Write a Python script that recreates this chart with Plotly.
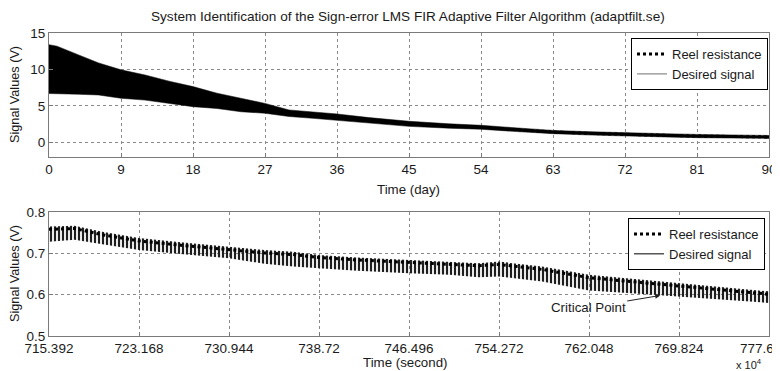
import plotly.graph_objects as go

# ---------------- data ----------------
title_text = "System Identification of the Sign-error LMS FIR Adaptive Filter Algorithm (adaptfilt.se)"

# top panel (time in days): envelope of the oscillating band
days = [0, 1, 3.7, 6.2, 9, 12, 15, 18, 21, 24, 27, 30, 33, 36, 40, 45, 50, 54, 59, 63, 68, 72, 77, 81, 86, 90]
top_upper = [13.4, 13.2, 12.0, 10.9, 9.95, 9.25, 8.4, 7.65, 6.75, 6.05, 5.35, 4.45, 4.2, 3.9, 3.4, 2.9, 2.55, 2.35, 1.95, 1.65, 1.45, 1.3, 1.2, 1.1, 1.0, 0.95]
top_lower = [6.7, 6.7, 6.6, 6.5, 6.05, 5.8, 5.35, 4.9, 4.65, 4.2, 4.0, 3.55, 3.3, 3.0, 2.6, 2.2, 1.95, 1.8, 1.45, 1.2, 1.0, 0.85, 0.75, 0.65, 0.6, 0.55]
top_reel = [10.0, 9.9, 9.3, 8.7, 8.0, 7.5, 6.9, 6.3, 5.7, 5.1, 4.7, 4.0, 3.75, 3.45, 3.0, 2.55, 2.25, 2.07, 1.7, 1.43, 1.22, 1.07, 0.97, 0.87, 0.8, 0.75]
top_xticks = [0, 9, 18, 27, 36, 45, 54, 63, 72, 81, 90]
top_yticks = [0, 5, 10, 15]

# bottom panel (time in seconds x 10^4)
secs = [715.392, 717.6, 720.0, 723.168, 727.0, 730.944, 734.0, 736.5, 738.72, 742.0, 746.496, 750.0, 752.5, 754.272, 758.0, 762.048, 766.0, 769.824, 773.5, 777.6]
bot_upper = [0.765, 0.767, 0.752, 0.737, 0.726, 0.716, 0.708, 0.704, 0.696, 0.690, 0.684, 0.680, 0.676, 0.680, 0.668, 0.648, 0.638, 0.628, 0.618, 0.608]
bot_lower = [0.728, 0.733, 0.722, 0.708, 0.698, 0.688, 0.675, 0.668, 0.664, 0.658, 0.652, 0.648, 0.642, 0.644, 0.632, 0.610, 0.603, 0.596, 0.588, 0.580]
bot_reel = [0.758, 0.760, 0.745, 0.730, 0.719, 0.709, 0.701, 0.697, 0.690, 0.684, 0.678, 0.674, 0.670, 0.673, 0.661, 0.641, 0.631, 0.621, 0.611, 0.601]
bot_xticks = [715.392, 723.168, 730.944, 738.72, 746.496, 754.272, 762.048, 769.824, 777.6]
bot_xticklabels = ["715.392", "723.168", "730.944", "738.72", "746.496", "754.272", "762.048", "769.824", "777.6"]
bot_yticks = [0.5, 0.6, 0.7, 0.8]

W, H = 772, 363   # page body has an 8px margin; figure fills the rest of the window
OFF = 8
FONT = "Liberation Sans, Arial, sans-serif"
TXT = "#1a1a1a"
TICK_SIZE = 13.5


def px(x):
    return (x - OFF) / W


def py(y):
    return 1 - (y - OFF) / H


fig = go.Figure()

# ---- top panel ----
fig.add_trace(go.Scatter(x=days, y=top_lower, mode="lines", line=dict(color="black", width=0.5),
                         showlegend=False, hoverinfo="skip", xaxis="x", yaxis="y"))
fig.add_trace(go.Scatter(x=days, y=top_upper, mode="lines", line=dict(color="black", width=0.5),
                         fill="tonexty", fillcolor="black",
                         showlegend=False, hoverinfo="skip", xaxis="x", yaxis="y"))
fig.add_trace(go.Scatter(x=days, y=top_reel, mode="lines", name="Reel resistance",
                         line=dict(color="black", width=3, dash="dot"),
                         xaxis="x", yaxis="y", legend="legend"))
fig.add_trace(go.Scatter(x=[None], y=[None], mode="lines", name="Desired signal",
                         line=dict(color="#a0a0a0", width=1.5),
                         xaxis="x", yaxis="y", legend="legend"))

# ---- bottom panel ----
fig.add_trace(go.Scatter(x=secs, y=bot_lower, mode="lines", line=dict(color="rgba(0,0,0,0)", width=0),
                         showlegend=False, hoverinfo="skip", xaxis="x2", yaxis="y2"))
fig.add_trace(go.Scatter(x=secs, y=bot_upper, mode="lines", line=dict(color="rgba(0,0,0,0)", width=0),
                         fill="tonexty", fillcolor="rgba(0,0,0,0)",
                         fillpattern=dict(shape="|", fgcolor="#1e1e1e", bgcolor="rgba(0,0,0,0)",
                                          size=4, solidity=0.55),
                         showlegend=False, hoverinfo="skip", xaxis="x2", yaxis="y2"))
fig.add_trace(go.Scatter(x=secs, y=bot_reel, mode="lines", name="Reel resistance",
                         line=dict(color="black", width=3, dash="dot"),
                         xaxis="x2", yaxis="y2", legend="legend2"))
fig.add_trace(go.Scatter(x=[None], y=[None], mode="lines", name="Desired signal",
                         line=dict(color="black", width=1),
                         xaxis="x2", yaxis="y2", legend="legend2"))

axis_common = dict(showline=True, linecolor="#7a7a7a", linewidth=1, mirror=True,
                   ticks="inside", ticklen=4, tickcolor="#7a7a7a", automargin=False,
                   ticklabeloverflow="allow",
                   showgrid=True, gridcolor="#8a8a8a", griddash="dot", gridwidth=1,
                   zeroline=False, tickfont=dict(family=FONT, size=TICK_SIZE, color=TXT))

xdom = [px(49), px(769)]

# the last bottom label sits a little left of its tick in the reference: draw it as a label
bot_ticktext = bot_xticklabels[:-1] + [""]

legend_common = dict(bgcolor="white", bordercolor="black", borderwidth=1,
                     font=dict(family=FONT, size=13, color=TXT),
                     xanchor="right", yanchor="top", tracegroupgap=0,
                     traceorder="normal", itemwidth=30)


def label(text, x, y, size=13, angle=0):
    return dict(text=text, x=px(x), y=py(y), xref="paper", yref="paper",
                xanchor="center", yanchor="middle", textangle=angle,
                showarrow=False, font=dict(family=FONT, size=size, color=TXT))


fig.update_layout(
    template="none",
    width=W, height=H,
    margin=dict(l=0, r=0, t=0, b=0, autoexpand=False),
    paper_bgcolor="white", plot_bgcolor="white",
    font=dict(family=FONT, color=TXT),
    xaxis=dict(domain=xdom, range=[0, 90], tickvals=top_xticks, anchor="y", **axis_common),
    yaxis=dict(domain=[py(157), py(33)], range=[-2, 15], tickvals=top_yticks, anchor="x", **axis_common),
    xaxis2=dict(domain=xdom, range=[715.392, 777.6], tickvals=bot_xticks, ticktext=bot_ticktext,
                anchor="y2", **axis_common),
    yaxis2=dict(domain=[py(336), py(212)], range=[0.5, 0.8], tickvals=bot_yticks,
                tickformat=".1f", anchor="x2", **axis_common),
    legend=dict(x=px(768), y=py(38), **legend_common),
    legend2=dict(x=px(765), y=py(218), **legend_common),
    annotations=[
        label(title_text, 408, 16, size=13.6),
        label("Signal Values (V)", 15, 95, size=12.7, angle=-90),
        label("Signal Values (V)", 15, 274, size=12.7, angle=-90),
        label("Time (day)", 409, 190, size=13.3),
        label("Time (second)", 405, 362, size=13.3),
        label(bot_xticklabels[-1], 757, 348, size=TICK_SIZE),
        label("x 10<sup>4</sup>", 749, 364, size=11),
        dict(text="Critical Point", x=768.2, y=0.598, xref="x2", yref="y2",
             ax=-72, ay=12, showarrow=True, arrowhead=2, arrowsize=1, arrowwidth=1,
             arrowcolor="#222222", font=dict(family=FONT, size=13.3, color=TXT)),
    ],
)

fig.write_html("out.html")
